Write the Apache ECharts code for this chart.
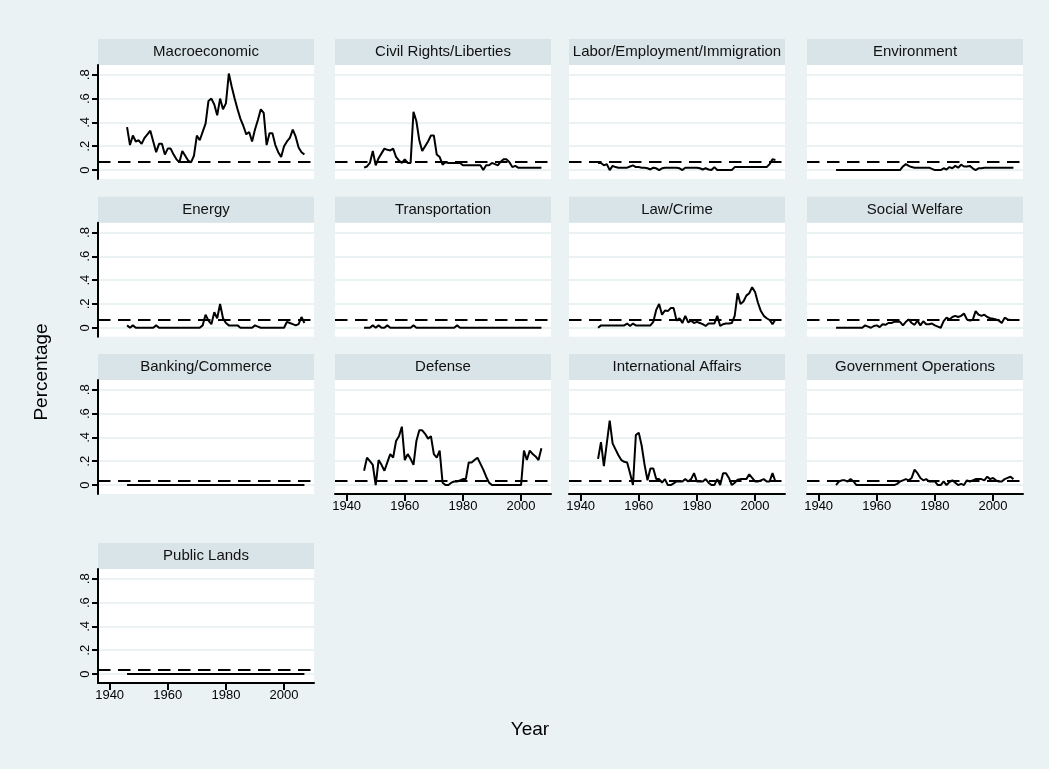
<!DOCTYPE html>
<html>
<head>
<meta charset="utf-8">
<script src="https://cdn.jsdelivr.net/npm/echarts@6/dist/echarts.min.js"></script>
<style>
  html, body { margin: 0; padding: 0; background: #eaf2f3; }
  #chart { width: 1049px; height: 769px; }
</style>
</head>
<body>
<div id="chart"></div>
<script>
// Share of attention by policy topic, yearly, 1946-2007
const years = [1946,1947,1948,1949,1950,1951,1952,1953,1954,1955,
  1956,1957,1958,1959,1960,1961,1962,1963,1964,1965,
  1966,1967,1968,1969,1970,1971,1972,1973,1974,1975,
  1976,1977,1978,1979,1980,1981,1982,1983,1984,1985,
  1986,1987,1988,1989,1990,1991,1992,1993,1994,1995,
  1996,1997,1998,1999,2000,2001,2002,2003,2004,2005,
  2006,2007];

const panelTitles = ['Macroeconomic', 'Civil Rights/Liberties', 'Labor/Employment/Immigration', 'Environment',
  'Energy', 'Transportation', 'Law/Crime', 'Social Welfare',
  'Banking/Commerce', 'Defense', 'International Affairs', 'Government Operations',
  'Public Lands'];

const macroeconomic = [.36,.21,.29,.24,.25,.22,.27,.30,.33,.24,
  .15,.22,.22,.13,.18,.18,.13,.09,.065,.16,
  .12,.08,.065,.12,.29,.25,.32,.39,.58,.60,
  .55,.46,.60,.51,.56,.81,.70,.60,.51,.43,
  .37,.30,.32,.24,.34,.42,.51,.48,.21,.31,
  .31,.21,.15,.11,.20,.24,.27,.34,.28,.19,
  .15,.13];
const civilRights = [.02,.03,.06,.16,.04,.10,.14,.18,.17,.165,
  .18,.11,.08,.06,.09,.06,.06,.49,.41,.25,
  .16,.20,.24,.29,.29,.13,.11,.045,.065,.06,
  .06,.06,.06,.06,.04,.04,.04,.04,.04,.04,
  .04,0,.04,.04,.06,.05,.04,.07,.09,.09,
  .065,.025,.035,.02,.02,.02,.02,.02,.02,.02,
  .02,.02];
const labor = [.06,.06,.04,.05,0,.035,.025,.02,.02,.02,
  .02,.03,.04,.025,.025,.02,.02,.015,.005,.02,
  .015,0,.015,.02,.02,.02,.02,.02,.015,0,
  .02,.02,.02,.02,.02,.015,.005,.015,.005,0,
  .025,0,0,0,0,0,0,.025,.025,.025,
  .025,.025,.025,.025,.025,.025,.025,.025,.025,.05,
  .09,.085];
const environment = [0,0,0,0,0,0,0,0,0,0,
  0,0,0,0,0,0,0,0,0,0,
  0,0,0,.03,.05,.035,.025,.02,.02,.02,
  .02,.02,.02,.01,0,0,0,.015,.005,.025,
  .015,.035,.02,.045,.03,.03,.035,.015,0,.015,
  .015,.02,.02,.02,.02,.02,.02,.02,.02,.02,
  .02,.02];
const energy = [.02,0,.02,0,0,0,0,0,0,0,
  .02,0,0,0,0,0,0,0,0,0,
  0,0,0,0,0,0,.02,.11,.06,.03,
  .13,.08,.20,.08,.04,.02,.02,.02,.02,0,
  0,0,0,0,.02,.01,0,0,0,0,
  0,0,0,0,0,.05,.04,.03,.02,.03,
  .09,.04];
const transportation = [0,0,0,.02,0,.02,0,0,.02,0,
  0,0,0,0,0,0,0,.02,0,0,
  0,0,0,0,0,0,0,0,0,0,
  0,0,.02,0,0,0,0,0,0,0,
  0,0,0,0,0,0,0,0,0,0,
  0,0,0,0,0,0,0,0,0,0,
  0,0];
const lawCrime = [0,.02,.02,.02,.02,.02,.02,.02,.02,.02,
  .035,.015,.035,.02,.02,.02,.02,.02,.02,.05,
  .15,.20,.11,.145,.14,.165,.165,.06,.08,.04,
  .10,.045,.06,.04,.05,.04,.03,.015,.035,.035,
  .035,.10,.015,.03,.035,.035,.04,.10,.29,.20,
  .22,.27,.29,.34,.30,.21,.14,.10,.08,.065,
  .03,.07];
const socialWelfare = [0,0,0,0,0,0,0,0,0,0,
  .02,.01,0,.015,.02,.005,.03,.025,.04,.04,
  .05,.05,.05,.02,.05,.07,.04,.025,.06,.02,
  .055,.03,.03,.035,.02,.01,0,.055,.085,.07,
  .09,.10,.09,.10,.12,.07,.06,.065,.14,.11,
  .10,.11,.09,.08,.075,.07,.06,.04,.085,.07,
  .065,.065];
const bankingCommerce = [0,0,0,0,0,0,0,0,0,0,
  0,0,0,0,0,0,0,0,0,0,
  0,0,0,0,0,0,0,0,0,0,
  0,0,0,0,0,0,0,0,0,0,
  0,0,0,0,0,0,0,0,0,0,
  0,0,0,0,0,0,0,0,0,0,
  0,0];
const defense = [.12,.23,.20,.17,0,.21,.17,.12,.19,.26,
  .23,.37,.41,.49,.21,.26,.22,.17,.37,.46,
  .46,.43,.39,.41,.26,.23,.29,.02,0,0,
  .02,.03,.03,.04,.05,.05,.19,.19,.21,.23,
  .18,.13,.07,.02,0,0,0,0,0,0,
  0,0,0,0,0,.29,.21,.29,.26,.24,
  .21,.31];
const internationalAffairs = [.22,.36,.16,.35,.54,.35,.30,.25,.21,.195,
  .19,.10,0,.42,.44,.33,.17,.04,.14,.14,
  .05,.05,.02,.05,0,0,.015,.03,.03,.03,
  .05,.03,.05,.10,.03,.03,.03,.05,.02,0,
  0,.05,0,.10,.10,.06,0,.02,.045,.05,
  .05,.05,.09,.06,.03,.03,.04,.05,.03,.03,
  .10,.03];
const governmentOperations = [0,.03,.04,.04,.03,.05,.03,0,0,0,
  0,0,0,0,0,0,0,0,0,0,
  0,.01,.03,.04,.05,.04,.06,.13,.10,.06,
  .04,.05,.03,.03,.03,0,0,.03,0,.025,
  .04,.02,0,.01,0,.04,.03,.04,.05,.05,
  .05,.04,.07,.05,.06,.04,.03,.03,.05,.06,
  .07,.05];
const publicLands = [0,0,0,0,0,0,0,0,0,0,
  0,0,0,0,0,0,0,0,0,0,
  0,0,0,0,0,0,0,0,0,0,
  0,0,0,0,0,0,0,0,0,0,
  0,0,0,0,0,0,0,0,0,0,
  0,0,0,0,0,0,0,0,0,0,
  0,0];

// dashed reference level drawn in each panel
const referenceLevels = [.065, .065, .065, .065, .065, .065, .065, .065, .045, .045, .045, .045, .045];

const yTicks = [0, .2, .4, .6, .8];
const xTicks = [1940, 1960, 1980, 2000];

const panelSeries = [macroeconomic, civilRights, labor, environment,
  energy, transportation, lawCrime, socialWelfare,
  bankingCommerce, defense, internationalAffairs, governmentOperations,
  publicLands];

// ---- layout ----
const colLeft = [98, 335, 569, 807];
const rowTop = [65, 222.7, 380, 569];
const plotW = 216, plotH = 114, stripH = 26;
const FONT = '"Liberation Sans", Arial, Helvetica, sans-serif';
const BG = '#eaf2f3';
const STRIP = '#d9e4e8';

const fmtY = v => (v === 0 ? '0' : String(+v.toFixed(1)).replace(/^0/, ''));
const fmtX = v => String(Math.round(v));

const grids = [], xAxes = [], yAxes = [], series = [], graphics = [];

panelSeries.forEach((vals, i) => {
  const row = Math.floor(i / 4), col = i % 4;
  const left = colLeft[col], top = rowTop[row];
  const showY = col === 0;
  const showX = (row === 2 && col > 0) || row === 3;

  grids.push({ left, top, width: plotW, height: plotH, show: true,
    backgroundColor: '#ffffff', borderWidth: 0 });

  xAxes.push({
    type: 'value', gridIndex: i, min: 1936, max: 2010.3,
    axisLine: { show: showX, onZero: false, lineStyle: { color: '#000', width: 2 } },
    axisTick: { show: showX, length: 7, customValues: xTicks, lineStyle: { color: '#000', width: 2 } },
    axisLabel: { show: showX, customValues: xTicks, margin: 6, color: '#000',
      fontFamily: FONT, fontSize: 13, formatter: fmtX },
    splitLine: { show: false }
  });

  yAxes.push({
    type: 'value', gridIndex: i, min: -0.075, max: 0.882,
    axisLine: { show: showY, onZero: false, lineStyle: { color: '#000', width: 2 } },
    axisTick: { show: showY, length: 6, customValues: yTicks, lineStyle: { color: '#000', width: 2 } },
    axisLabel: { show: showY, customValues: yTicks, rotate: 90, margin: 6, color: '#000',
      fontFamily: FONT, fontSize: 13, formatter: fmtY },
    splitLine: { show: true, lineStyle: { color: BG, width: 2 } }
  });

  series.push({
    type: 'line', xAxisIndex: i, yAxisIndex: i,
    data: years.map((y, k) => [y, vals[k]]),
    showSymbol: false, symbol: 'none',
    lineStyle: { color: '#000', width: 2 },
    z: 3,
    markLine: {
      silent: true, symbol: 'none', label: { show: false },
      lineStyle: { color: '#000', width: 2, type: [12.5, 7.5] },
      data: [{ yAxis: referenceLevels[i] }]
    }
  });

  // facet strip
  graphics.push({
    type: 'rect', shape: { x: left, y: top - stripH, width: plotW, height: stripH },
    style: { fill: STRIP }, silent: true
  });
  graphics.push({
    type: 'text', x: left + plotW / 2, y: top - stripH / 2,
    style: { text: panelTitles[i], font: '15px ' + FONT, fill: '#111',
      textAlign: 'center', textVerticalAlign: 'middle' }, silent: true
  });
});

graphics.push({
  type: 'text', x: 42, y: 372, rotation: Math.PI / 2,
  style: { text: 'Percentage', font: '19px ' + FONT, fill: '#000',
    textAlign: 'center', textVerticalAlign: 'middle' }, silent: true
});
graphics.push({
  type: 'text', x: 530, y: 730,
  style: { text: 'Year', font: '19px ' + FONT, fill: '#000',
    textAlign: 'center', textVerticalAlign: 'middle' }, silent: true
});

const chart = echarts.init(document.getElementById('chart'), null, { renderer: 'canvas' });
chart.setOption({
  animation: false,
  backgroundColor: BG,
  grid: grids,
  xAxis: xAxes,
  yAxis: yAxes,
  series: series,
  graphic: graphics
});
</script>
</body>
</html>
